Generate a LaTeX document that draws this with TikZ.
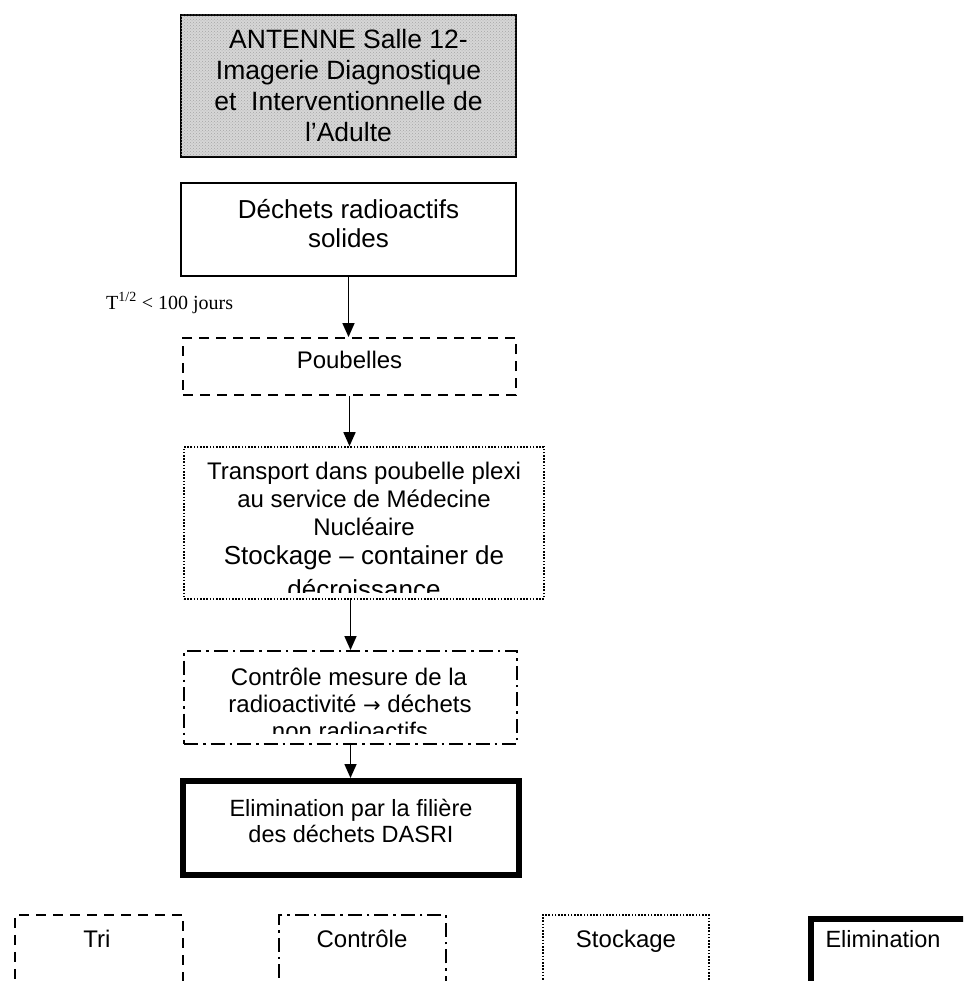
\documentclass[tikz,border=0pt]{standalone}
\usepackage{fontspec}
\setmainfont{Liberation Sans}
\newfontfamily\labelserif{Liberation Serif}
\newfontfamily\arrowfont{DejaVu Sans}
\usetikzlibrary{arrows.meta,patterns}
\definecolor{boxgray}{RGB}{214,214,214}
\begin{document}
\begin{tikzpicture}[x=1pt,y=-1pt,
  box/.style={draw, line width=1.9pt, inner sep=0pt, align=center},
  dashbox/.style={box, dash pattern=on 10pt off 7pt},
  dotbox/.style={box, line width=1.6pt, dash pattern=on 1.6pt off 1.6pt},
  dashdotbox/.style={box, dash pattern=on 14pt off 5pt on 2.5pt off 5pt},
  thickbox/.style={draw, line width=6pt, inner sep=0pt, align=center},
  txt/.style={font=\fontsize{24}{27}\selectfont, inner sep=0pt},
  bigtxt/.style={font=\fontsize{26}{30}\selectfont, inner sep=0pt},
  arr/.style={-{Triangle[length=14pt,width=12pt]}, line width=1.6pt}]
\useasboundingbox (0,0) rectangle (963,981);
\clip (0,0) rectangle (963,981);

% main chain
\node[box, fill=boxgray, postaction={pattern=crosshatch dots, pattern color=gray!70},
      minimum width=335pt, minimum height=142pt,
      font=\fontsize{26.5}{31}\selectfont] (antenne) at (348.5,86)
  {ANTENNE Salle 12-\\Imagerie Diagnostique\\et\ \ Interventionnelle de\\l'Adulte};

\node[box, minimum width=335pt, minimum height=93pt,
      font=\fontsize{26}{29}\selectfont, text depth=13pt] (dechets) at (348.5,229.5)
  {Déchets radioactifs\\solides};

\node[anchor=west, inner sep=0pt, font=\labelserif\fontsize{20}{24}\selectfont] (demivie) at (106,303)
  {T\textsuperscript{1/2} < 100 jours};

\node[dashbox, minimum width=333pt, minimum height=57pt,
      font=\fontsize{24}{27}\selectfont, text depth=14pt] (poubelles) at (349.5,366.5)
  {Poubelles};

\node[dotbox, minimum width=360pt, minimum height=152pt] (transport) at (364,523) {};
\begin{scope}
  \clip (186,449) rectangle (542,592);
  \node[txt, anchor=base] (tr1) at (364,479) {Transport dans poubelle plexi};
  \node[txt, anchor=base] (tr2) at (364,507) {au service de Médecine};
  \node[txt, anchor=base] (tr3) at (364,535) {Nucléaire};
  \node[bigtxt, anchor=base] (tr4) at (364,564) {Stockage – container de};
  \node[bigtxt, anchor=base] (tr5) at (364,598) {décroissance};
\end{scope}

\node[dashdotbox, minimum width=333pt, minimum height=93pt] (controle) at (350.5,697.5) {};
\begin{scope}
  \clip (186,653) rectangle (515,733);
  \node[txt, anchor=base] (ct1) at (349,685) {Contrôle mesure de la};
  \node[txt, anchor=base] (ct2) at (350,712) {radioactivité {\arrowfont\fontsize{21}{24}\selectfont →} déchets};
  \node[txt, anchor=base] (ct3) at (350,739) {non radioactifs};
\end{scope}

\node[thickbox, minimum width=336pt, minimum height=94pt,
      font=\fontsize{23.5}{26}\selectfont, text depth=14pt] (elimination) at (351,828)
  {Elimination par la filière\\des déchets DASRI};

% connectors
\draw[arr] (dechets.south) -- (dechets.south |- poubelles.north);
\draw[arr] (poubelles.south) -- (poubelles.south |- transport.north);
\draw[arr] (controle.north |- transport.south) -- (controle.north);
\draw[arr] (controle.south) -- (controle.south |- elimination.north);

% legend
\node[dashbox, anchor=north west, minimum width=168pt, minimum height=120pt] (ltri) at (14,914) {};
\node[txt, anchor=base] (ltri-t) at (97,947) {Tri};
\node[dashdotbox, anchor=north west, minimum width=167pt, minimum height=120pt] (lcontrole) at (278,914) {};
\node[txt, anchor=base] (lcontrole-t) at (362,947) {Contrôle};
\node[dotbox, anchor=north west, minimum width=166pt, minimum height=120pt] (lstockage) at (542,914) {};
\node[txt, anchor=base] (lstockage-t) at (626,947) {Stockage};
\node[thickbox, anchor=north west, minimum width=200pt, minimum height=120pt] (lelim) at (808,916) {};
\node[font=\fontsize{23.5}{26}\selectfont, inner sep=0pt, anchor=base] (lelim-t) at (883,947) {Elimination};
\end{tikzpicture}
\end{document}
